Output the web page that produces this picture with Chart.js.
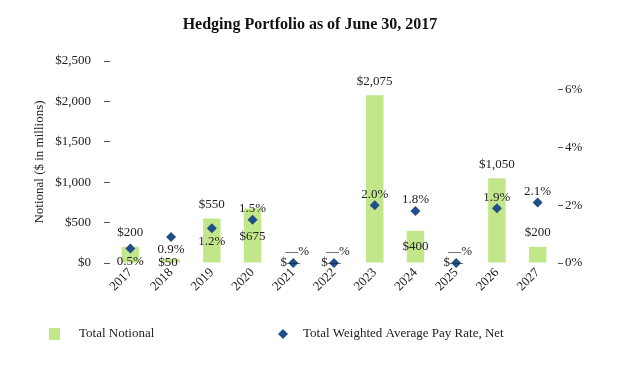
<!DOCTYPE html>
<html>
<head>
<meta charset="utf-8">
<script src="https://cdn.jsdelivr.net/npm/chart.js@4.4.1/dist/chart.umd.min.js"></script>
<style>
html,body{margin:0;padding:0;background:#fff;}
#wrap{position:relative;width:620px;height:370px;}
</style>
</head>
<body>
<div id="wrap"><canvas id="c" width="620" height="370"></canvas></div>
<script>
// ---- data ----
const years = ['2017','2018','2019','2020','2021','2022','2023','2024','2025','2026','2027'];
const notional = [200, 50, 550, 675, 0, 0, 2075, 400, 0, 1050, 200];
const payRate = [0.5, 0.9, 1.2, 1.5, 0, 0, 2.0, 1.8, 0, 1.9, 2.1];
const notionalLabels = ['$200','$50','$550','$675','$—','$—','$2,075','$400','$—','$1,050','$200'];
const rateLabels = ['0.5%','0.9%','1.2%','1.5%','—%','—%','2.0%','1.8%','—%','1.9%','2.1%'];
const leftTicks = [0, 500, 1000, 1500, 2000, 2500];
const rightTicks = [0, 2, 4, 6];

// ---- label placement (style) ----
const notionalPlace = ['above','zero','above','below','zero','zero','above','below','zero','above','above'];
const ratePlace = ['below','below','below','above','above','above','above','above','above','above','above'];

const FONT = '"Liberation Serif", "Times New Roman", serif';
const GREEN = '#C2E68A';
const BLUE = '#1F4E89';
const TEXT = '#222';

const labelPlugin = {
  id: 'labels',
  afterDatasetsDraw(chart) {
    const ctx = chart.ctx;
    ctx.save();
    ctx.font = '13px ' + FONT;
    ctx.fillStyle = TEXT;
    ctx.textAlign = 'center';
    ctx.textBaseline = 'middle';
    const bars = chart.getDatasetMeta(0).data;
    const pts = chart.getDatasetMeta(1).data;
    bars.forEach((b, i) => {
      let y = b.y;
      const p = notionalPlace[i];
      if (p === 'above') y -= 14;
      else if (p === 'below') y += (i === 3 ? 28 : 16);
      else y = b.base;
      ctx.fillText(notionalLabels[i], b.x - (p === 'zero' ? 3 : 0), y);
    });
    pts.forEach((pt, i) => {
      const y = pt.y + (ratePlace[i] === 'below' ? 13 : -11);
      ctx.fillText(rateLabels[i], pt.x + (payRate[i] === 0 ? 4 : 0), y);
    });
    ctx.restore();
  }
};

const decorPlugin = {
  id: 'decor',
  afterDraw(chart) {
    const ctx = chart.ctx;
    ctx.save();
    // title
    ctx.font = 'bold 16px ' + FONT;
    ctx.fillStyle = '#111';
    ctx.textAlign = 'center';
    ctx.textBaseline = 'middle';
    ctx.fillText('Hedging Portfolio as of June 30, 2017', 310, 25);
    // legend
    ctx.font = '13px ' + FONT;
    ctx.textAlign = 'left';
    ctx.fillStyle = GREEN;
    ctx.fillRect(49, 328, 11, 12);
    ctx.fillStyle = TEXT;
    ctx.fillText('Total Notional', 79, 334);
    ctx.fillStyle = BLUE;
    ctx.beginPath();
    ctx.moveTo(283, 329); ctx.lineTo(288, 334); ctx.lineTo(283, 339); ctx.lineTo(278, 334);
    ctx.closePath(); ctx.fill();
    ctx.fillStyle = TEXT;
    ctx.fillText('Total Weighted Average Pay Rate, Net', 303, 334);
    ctx.restore();
  }
};

new Chart(document.getElementById('c'), {
  data: {
    labels: years,
    datasets: [
      {
        type: 'bar',
        label: 'Total Notional',
        data: notional,
        backgroundColor: GREEN,
        yAxisID: 'y',
        barPercentage: 0.43,
        categoryPercentage: 1.0,
        order: 2
      },
      {
        type: 'line',
        label: 'Total Weighted Average Pay Rate, Net',
        data: payRate,
        showLine: false,
        clip: false,
        pointStyle: 'rectRot',
        pointRadius: 5,
        pointHoverRadius: 5,
        backgroundColor: BLUE,
        borderColor: BLUE,
        borderWidth: 0,
        yAxisID: 'y1',
        order: 1
      }
    ]
  },
  options: {
    responsive: false,
    animation: false,
    events: [],
    layout: { padding: { top: 61, bottom: 0, left: 0, right: 0 } },
    plugins: {
      legend: { display: false },
      title: { display: false },
      tooltip: { enabled: false }
    },
    scales: {
      x: {
        grid: { display: false, drawTicks: false },
        border: { display: false },
        ticks: {
          color: TEXT,
          font: { family: FONT, size: 13 },
          minRotation: 45,
          maxRotation: 45,
          padding: 2,
          autoSkip: false
        },
        afterFit(s) { s.height = 107; }
      },
      y: {
        position: 'left',
        min: 0,
        max: 2500,
        grid: { drawOnChartArea: false, drawTicks: true, tickLength: 6, color: '#555' },
        border: { display: false },
        afterBuildTicks(s) { s.ticks = leftTicks.map(v => ({ value: v })); },
        ticks: {
          color: TEXT,
          font: { family: FONT, size: 13 },
          padding: 13,
          callback: v => '$' + Number(v).toLocaleString('en-US')
        },
        title: {
          display: true,
          text: 'Notional ($ in millions)',
          color: TEXT,
          font: { family: FONT, size: 13 },
          padding: { top: 32, bottom: 0 }
        },
        afterFit(s) { s.width = 110; }
      },
      y1: {
        position: 'right',
        min: 0,
        max: 7,
        grid: { drawOnChartArea: false, drawTicks: true, tickLength: 5, color: '#555' },
        border: { display: false },
        afterBuildTicks(s) { s.ticks = rightTicks.map(v => ({ value: v })); },
        ticks: {
          color: TEXT,
          font: { family: FONT, size: 13 },
          padding: 2,
          callback: v => v + '%'
        },
        afterFit(s) { s.width = 62; }
      }
    }
  },
  plugins: [labelPlugin, decorPlugin]
});
</script>
</body>
</html>
